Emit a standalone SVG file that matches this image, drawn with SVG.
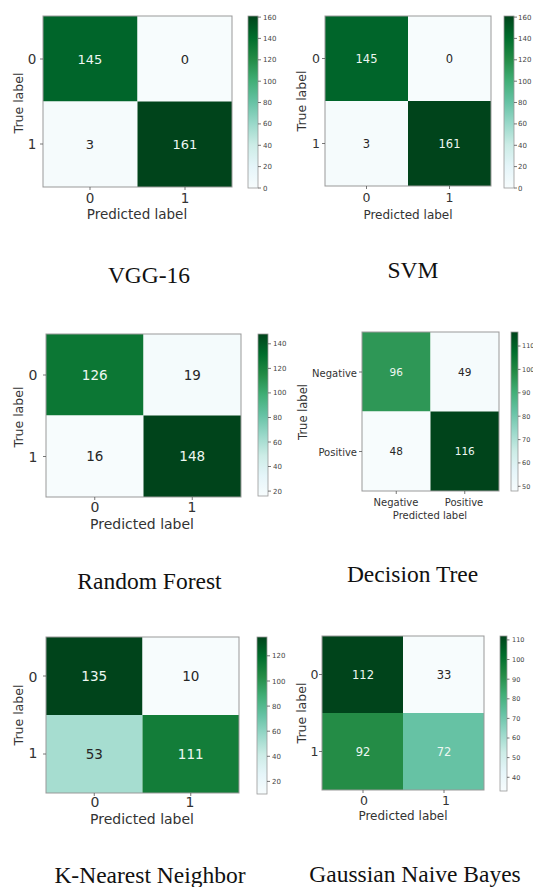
<svg xmlns="http://www.w3.org/2000/svg" width="533" height="887" viewBox="0 0 533 887">
<defs>
<linearGradient id="bugn" x1="0" y1="1" x2="0" y2="0">
<stop offset="0" stop-color="#f7fcfd"/>
<stop offset="0.125" stop-color="#e5f5f9"/>
<stop offset="0.25" stop-color="#ccece6"/>
<stop offset="0.375" stop-color="#99d8c9"/>
<stop offset="0.5" stop-color="#66c2a4"/>
<stop offset="0.625" stop-color="#41ae76"/>
<stop offset="0.75" stop-color="#238b45"/>
<stop offset="0.875" stop-color="#006d2c"/>
<stop offset="1" stop-color="#00441b"/>
</linearGradient>
<style>
.ax{font-family:"DejaVu Sans",sans-serif;fill:#333;text-anchor:middle}
.cb{font-family:"DejaVu Sans",sans-serif;fill:#444;font-size:7px}
.cs{font-size:6.5px}
.lt{fill:#eef7f2}
.dk{fill:#262626}
.title{font-family:"Liberation Serif",serif;font-size:23.5px;fill:#111;text-anchor:middle}
.frame{fill:none;stroke:#999;stroke-width:1}
.tk{stroke:#555;stroke-width:0.8}
.bar{fill:url(#bugn);stroke:#999;stroke-width:0.8}
.end{text-anchor:end}
</style>
</defs>
<rect width="533" height="887" fill="#ffffff"/>

<!-- Panel 1: VGG-16 -->
<g id="vgg16">
<rect x="43" y="16" width="94.5" height="85.5" fill="#00652a"/>
<rect x="137.5" y="16" width="94.5" height="85.5" fill="#f7fcfd"/>
<rect x="43" y="101.5" width="94.5" height="85.5" fill="#f5fbfc"/>
<rect x="137.5" y="101.5" width="94.5" height="85.5" fill="#00441b"/>
<rect class="frame" x="43" y="16" width="189" height="171"/>
<g font-size="13">
<text class="ax lt" x="90" y="63.5">145</text>
<text class="ax dk" x="185" y="63.5">0</text>
<text class="ax dk" x="90" y="148.5">3</text>
<text class="ax lt" x="185" y="148.5">161</text>
</g>
<path class="tk" d="M40 59H43M40 144H43M90 187V190M185 187V190"/>
<g font-size="13.5">
<text class="ax" x="32" y="64">0</text>
<text class="ax" x="32" y="149">1</text>
<text class="ax" x="90" y="202.5">0</text>
<text class="ax" x="185" y="202.5">1</text>
<text class="ax" x="137" y="219">Predicted label</text>
<text class="ax" transform="translate(22.5,103) rotate(-90)" font-size="12.5">True label</text>
</g>
<rect class="bar" x="248" y="16" width="10" height="172"/>
<path class="tk" d="M258 17.1h3M258 38.4h3M258 59.8h3M258 81.2h3M258 102.5h3M258 123.9h3M258 145.3h3M258 166.6h3M258 188h3"/>
<text class="cb" x="263" y="19.6">160</text>
<text class="cb" x="263" y="40.9">140</text>
<text class="cb" x="263" y="62.3">120</text>
<text class="cb" x="263" y="83.7">100</text>
<text class="cb" x="263" y="105">80</text>
<text class="cb" x="263" y="126.4">60</text>
<text class="cb" x="263" y="147.8">40</text>
<text class="cb" x="263" y="169.1">20</text>
<text class="cb" x="263" y="190.5">0</text>
<text class="title" x="149" y="283">VGG-16</text>
</g>

<!-- Panel 2: SVM -->
<g id="svm">
<rect x="325" y="16" width="83" height="85" fill="#00652a"/>
<rect x="408" y="16" width="83" height="85" fill="#f7fcfd"/>
<rect x="325" y="101" width="83" height="85" fill="#f5fbfc"/>
<rect x="408" y="101" width="83" height="85" fill="#00441b"/>
<rect class="frame" x="325" y="16" width="166" height="170"/>
<g font-size="11.5">
<text class="ax lt" x="366.5" y="62.5">145</text>
<text class="ax dk" x="449.5" y="62.5">0</text>
<text class="ax dk" x="366.5" y="147.5">3</text>
<text class="ax lt" x="449.5" y="147.5">161</text>
</g>
<path class="tk" d="M322 58.5H325M322 143.5H325M366.5 186V189M449.5 186V189"/>
<g font-size="12.5">
<text class="ax" x="316" y="63">0</text>
<text class="ax" x="316" y="148">1</text>
<text class="ax" x="366.5" y="201.5">0</text>
<text class="ax" x="449.5" y="201.5">1</text>
<text class="ax" x="408" y="218.5" font-size="12">Predicted label</text>
<text class="ax" transform="translate(306,101) rotate(-90)">True label</text>
</g>
<rect class="bar" x="504" y="16" width="10" height="172"/>
<path class="tk" d="M514 17.1h3M514 38.4h3M514 59.8h3M514 81.2h3M514 102.5h3M514 123.9h3M514 145.3h3M514 166.6h3M514 188h3"/>
<text class="cb" x="518" y="19.6">160</text>
<text class="cb" x="518" y="40.9">140</text>
<text class="cb" x="518" y="62.3">120</text>
<text class="cb" x="518" y="83.7">100</text>
<text class="cb" x="518" y="105">80</text>
<text class="cb" x="518" y="126.4">60</text>
<text class="cb" x="518" y="147.8">40</text>
<text class="cb" x="518" y="169.1">20</text>
<text class="cb" x="518" y="190.5">0</text>
<text class="title" x="413" y="278">SVM</text>
</g>

<!-- Panel 3: Random Forest -->
<g id="random-forest">
<rect x="46" y="334" width="97.5" height="81.5" fill="#0c7734"/>
<rect x="143.5" y="334" width="97.5" height="81.5" fill="#f4fbfc"/>
<rect x="46" y="415.5" width="97.5" height="81.5" fill="#f7fcfd"/>
<rect x="143.5" y="415.5" width="97.5" height="81.5" fill="#00441b"/>
<rect class="frame" x="46" y="334" width="195" height="163"/>
<g font-size="13.5">
<text class="ax lt" x="94.75" y="379.5">126</text>
<text class="ax dk" x="192.25" y="379.5">19</text>
<text class="ax dk" x="94.75" y="461">16</text>
<text class="ax lt" x="192.25" y="461">148</text>
</g>
<path class="tk" d="M43 375H46M43 456.5H46M94.75 497V500M192.25 497V500"/>
<g font-size="14">
<text class="ax" x="33" y="380">0</text>
<text class="ax" x="33" y="462">1</text>
<text class="ax" x="95" y="511.5">0</text>
<text class="ax" x="192" y="511.5">1</text>
<text class="ax" x="142" y="528.5">Predicted label</text>
<text class="ax" transform="translate(22.5,417) rotate(-90)" font-size="12.5">True label</text>
</g>
<rect class="bar" x="258" y="334" width="10" height="162"/>
<path class="tk" d="M268 343.8h3M268 368.4h3M268 392.9h3M268 417.5h3M268 442h3M268 466.5h3M268 491.1h3"/>
<text class="cb" x="273" y="346.3">140</text>
<text class="cb" x="273" y="370.9">120</text>
<text class="cb" x="273" y="395.4">100</text>
<text class="cb" x="273" y="420">80</text>
<text class="cb" x="273" y="444.5">60</text>
<text class="cb" x="273" y="469">40</text>
<text class="cb" x="273" y="493.6">20</text>
<text class="title" x="149.5" y="589">Random Forest</text>
</g>

<!-- Panel 4: Decision Tree -->
<g id="decision-tree">
<rect x="362" y="332" width="68.5" height="79.5" fill="#2e9756"/>
<rect x="430.5" y="332" width="68.5" height="79.5" fill="#f5fbfc"/>
<rect x="362" y="411.5" width="68.5" height="79.5" fill="#f7fcfd"/>
<rect x="430.5" y="411.5" width="68.5" height="79.5" fill="#00441b"/>
<rect class="frame" x="362" y="332" width="137" height="159"/>
<g font-size="10.5">
<text class="ax lt" x="396.25" y="375.5">96</text>
<text class="ax dk" x="464.75" y="375.5">49</text>
<text class="ax dk" x="396.25" y="455">48</text>
<text class="ax lt" x="464.75" y="455">116</text>
</g>
<path class="tk" d="M359 372H362M359 451.5H362M396.25 491V494M464.75 491V494"/>
<g font-size="10">
<text class="ax end" x="357" y="376.5">Negative</text>
<text class="ax end" x="357" y="455.5">Positive</text>
<text class="ax" x="396" y="505.5">Negative</text>
<text class="ax" x="464" y="505.5">Positive</text>
<text class="ax" x="430" y="519">Predicted label</text>
<text class="ax" transform="translate(307,412) rotate(-90)" font-size="11.5">True label</text>
</g>
<rect class="bar" x="511" y="332" width="7" height="159"/>
<path class="tk" d="M518 346h2.5M518 369.4h2.5M518 392.8h2.5M518 416.2h2.5M518 439.6h2.5M518 462.9h2.5M518 486.3h2.5"/>
<text class="cb cs" x="522" y="348.3">110</text>
<text class="cb cs" x="522" y="371.7">100</text>
<text class="cb cs" x="522" y="395.1">90</text>
<text class="cb cs" x="522" y="418.5">80</text>
<text class="cb cs" x="522" y="441.9">70</text>
<text class="cb cs" x="522" y="465.2">60</text>
<text class="cb cs" x="522" y="488.6">50</text>
<text class="title" x="412.5" y="582">Decision Tree</text>
</g>

<!-- Panel 5: K-Nearest Neighbor -->
<g id="knn">
<rect x="46" y="637" width="96.5" height="78" fill="#00441b"/>
<rect x="142.5" y="637" width="96.5" height="78" fill="#f7fcfd"/>
<rect x="46" y="715" width="96.5" height="78" fill="#a6ddd0"/>
<rect x="142.5" y="715" width="96.5" height="78" fill="#137d39"/>
<rect class="frame" x="46" y="637" width="193" height="156"/>
<g font-size="13.5">
<text class="ax lt" x="94.25" y="680.5">135</text>
<text class="ax dk" x="190.75" y="680.5">10</text>
<text class="ax dk" x="94.25" y="758.5">53</text>
<text class="ax lt" x="190.75" y="758.5">111</text>
</g>
<path class="tk" d="M43 676H46M43 754H46M94.25 793V796M190.75 793V796"/>
<g font-size="14">
<text class="ax" x="33" y="682">0</text>
<text class="ax" x="33" y="758">1</text>
<text class="ax" x="95" y="806.5">0</text>
<text class="ax" x="190" y="806.5">1</text>
<text class="ax" x="142" y="823.5">Predicted label</text>
<text class="ax" transform="translate(22.5,715) rotate(-90)" font-size="12.5">True label</text>
</g>
<rect class="bar" x="257" y="637" width="10" height="157"/>
<path class="tk" d="M267 655.8h3M267 681h3M267 706.1h3M267 731.2h3M267 756.3h3M267 781.4h3"/>
<text class="cb" x="272" y="658.3">120</text>
<text class="cb" x="272" y="683.5">100</text>
<text class="cb" x="272" y="708.6">80</text>
<text class="cb" x="272" y="733.7">60</text>
<text class="cb" x="272" y="758.8">40</text>
<text class="cb" x="272" y="783.9">20</text>
<text class="title" x="150" y="883">K-Nearest Neighbor</text>
</g>

<!-- Panel 6: Gaussian Naive Bayes -->
<g id="gaussian-nb">
<rect x="322" y="636" width="81" height="77" fill="#00441b"/>
<rect x="403" y="636" width="81" height="77" fill="#f7fcfd"/>
<rect x="322" y="713" width="81" height="77" fill="#248c46"/>
<rect x="403" y="713" width="81" height="77" fill="#66c2a4"/>
<rect class="frame" x="322" y="636" width="162" height="154"/>
<g font-size="11.5">
<text class="ax lt" x="363" y="679">112</text>
<text class="ax dk" x="444" y="679">33</text>
<text class="ax lt" x="363" y="756">92</text>
<text class="ax lt" x="444" y="756">72</text>
</g>
<path class="tk" d="M319 674.5H322M319 751.5H322M363 790V793M444 790V793"/>
<g font-size="12.5">
<text class="ax" x="314.5" y="679">0</text>
<text class="ax" x="314.5" y="756">1</text>
<text class="ax" x="364" y="805">0</text>
<text class="ax" x="446" y="805">1</text>
<text class="ax" x="403" y="820" font-size="12">Predicted label</text>
<text class="ax" transform="translate(305.5,713) rotate(-90)">True label</text>
</g>
<rect class="bar" x="500" y="636" width="7" height="155"/>
<path class="tk" d="M507 639.9h2.5M507 659.5h2.5M507 679.2h2.5M507 698.8h2.5M507 718.4h2.5M507 738h2.5M507 757.6h2.5M507 777.3h2.5"/>
<text class="cb cs" x="512" y="642.2">110</text>
<text class="cb cs" x="512" y="661.8">100</text>
<text class="cb cs" x="512" y="681.5">90</text>
<text class="cb cs" x="512" y="701.1">80</text>
<text class="cb cs" x="512" y="720.7">70</text>
<text class="cb cs" x="512" y="740.3">60</text>
<text class="cb cs" x="512" y="759.9">50</text>
<text class="cb cs" x="512" y="779.6">40</text>
<text class="title" x="415" y="882">Gaussian Naive Bayes</text>
</g>
</svg>
